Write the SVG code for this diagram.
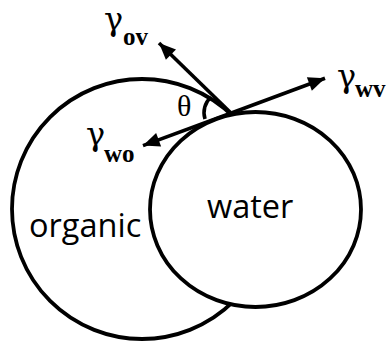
<svg xmlns="http://www.w3.org/2000/svg" width="387" height="343" viewBox="0 0 387 343">
<style>
.shape{fill:#fff;stroke:#000;stroke-width:3.8}
.line{fill:none;stroke:#000;stroke-width:3.6}
.g{font-family:"DejaVu Serif","Liberation Serif",serif;font-size:32px;fill:#000}
.th{font-family:"Liberation Serif","DejaVu Serif",serif;font-size:30px;fill:#000}
.sub{font-family:"Liberation Serif","DejaVu Serif",serif;font-size:25px;font-weight:bold;fill:#000}
.lbl{font-family:"Open Sans","Noto Sans",sans-serif;font-size:32.5px;fill:#000}
</style>
<defs>
<marker id="ah" markerUnits="userSpaceOnUse" markerWidth="20" markerHeight="20" viewBox="-16 -8 18 16" refX="0" refY="0" orient="auto">
<path d="M0,0 L-15,-6.5 L-15,6.5 Z" fill="#000"/>
</marker>
</defs>
<g id="organic">
<circle class="shape" cx="142" cy="209" r="130"/>
<text class="lbl" x="29" y="237">organic</text>
</g>
<g id="water">
<ellipse class="shape" cx="255.5" cy="209.5" rx="105.5" ry="97.5"/>
<text class="lbl" x="207" y="218">water</text>
</g>
<g id="connectors">
<line class="line" x1="232" y1="114" x2="159" y2="43" marker-end="url(#ah)"/>
<line class="line" x1="232" y1="112.7" x2="325" y2="78.3" marker-end="url(#ah)"/>
<line class="line" x1="232" y1="112.7" x2="143" y2="145.6" marker-end="url(#ah)"/>
<path class="line" d="M211,97 A21,21 0 0,0 205,119"/>
</g>
<g id="labels">
<text class="th" x="177" y="116">θ</text>
<text class="g" x="104" y="30">γ</text><text class="sub" x="123" y="45">ov</text>
<text class="g" x="337" y="87">γ</text><text class="sub" x="355" y="97">wv</text>
<text class="g" x="86" y="145">γ</text><text class="sub" x="104" y="162">wo</text>
</g>
</svg>
